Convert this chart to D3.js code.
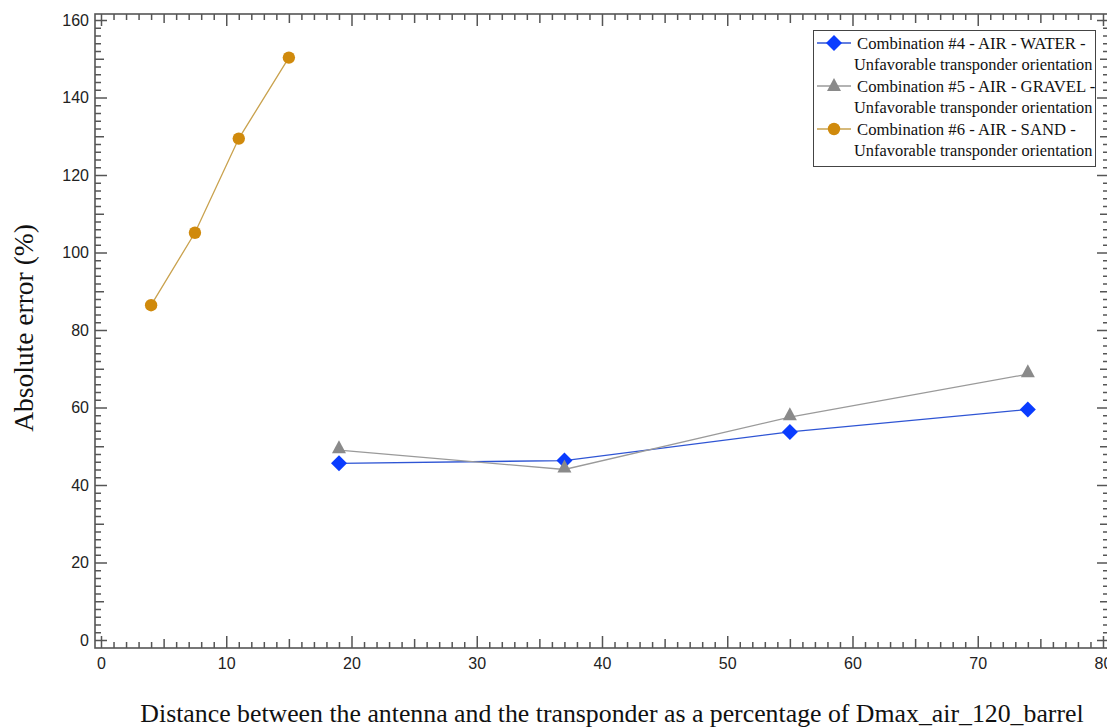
<!DOCTYPE html>
<html>
<head>
<meta charset="utf-8">
<script src="https://cdn.jsdelivr.net/npm/d3@7"></script>
<style>
  html, body { margin: 0; padding: 0; background: #fff; }
  svg { display: block; }
</style>
</head>
<body>
<svg id="chart" width="1107" height="728"></svg>
<script>
// Measurement series: absolute error (%) vs. antenna–transponder distance (% of Dmax)
const waterX  = [19, 37, 55, 74];
const waterY  = [45.6, 46.3, 53.7, 59.5];
const gravelX = [19, 37, 55, 74];
const gravelY = [49.0, 44.0, 57.5, 68.6];
const sandX   = [4, 7.5, 11, 15];
const sandY   = [86.4, 105.1, 129.4, 150.3];

const xTickLabels = [0, 10, 20, 30, 40, 50, 60, 70, 80];
const yTickLabels = [0, 20, 40, 60, 80, 100, 120, 140, 160];

const legendLines = [
  ["Combination #4 - AIR - WATER -", "Unfavorable transponder orientation"],
  ["Combination #5 - AIR - GRAVEL -", "Unfavorable transponder orientation"],
  ["Combination #6 - AIR - SAND -", "Unfavorable transponder orientation"]
];

const svg = d3.select("#chart");

// Plot frame
const frame = { left: 95, right: 1109, top: 14, bottom: 648 };
const x = d3.scaleLinear().domain([-0.479, 80.48]).range([frame.left, frame.right]);
const y = d3.scaleLinear().domain([-2.065, 161.55]).range([frame.bottom, frame.top]);

const axisColor = "#555";

// Tick sets: minor, medium, major
const xMinor = d3.range(0, 81, 1).filter(v => v % 5 !== 0);
const xMed   = d3.range(5, 81, 10);
const yMinor = d3.range(0, 161, 2).filter(v => v % 10 !== 0);
const yMed   = d3.range(10, 161, 20);

const sizes = { minor: 6, med: 9, major: 12 };

function styleAxis(g) {
  g.select(".domain").remove();
  g.selectAll(".tick line").attr("stroke", axisColor).attr("stroke-width", 1.5);
  g.selectAll(".tick text")
    .attr("fill", "#222")
    .style("font-family", "'Liberation Sans', Arial, sans-serif")
    .style("font-size", "16px");
}

function addAxis(maker, scale, transform, vals, size, labels, pad) {
  const ax = maker(scale).tickValues(vals).tickSizeInner(-size).tickSizeOuter(0)
    .tickPadding(pad || 3);
  if (!labels) ax.tickFormat("");
  else ax.tickFormat(d3.format("d"));
  const g = svg.append("g").attr("transform", transform).call(ax);
  styleAxis(g);
  return g;
}

// Bottom, top, left, right axes with inward ticks
[[d3.axisBottom, `translate(0,${frame.bottom})`, true, 10],
 [d3.axisTop, `translate(0,${frame.top})`, false]].forEach(([m, t, lab, pad]) => {
  addAxis(m, x, t, xMinor, sizes.minor, false);
  addAxis(m, x, t, xMed, sizes.med, false);
  addAxis(m, x, t, xTickLabels, sizes.major, lab, pad);
});
[[d3.axisLeft, `translate(${frame.left},0)`, true, 6],
 [d3.axisRight, `translate(${frame.right},0)`, false]].forEach(([m, t, lab, pad]) => {
  addAxis(m, y, t, yMinor, sizes.minor, false);
  addAxis(m, y, t, yMed, sizes.med, false);
  addAxis(m, y, t, yTickLabels, sizes.major, lab, pad);
});

// Frame lines
svg.append("rect")
  .attr("x", frame.left).attr("y", frame.top)
  .attr("width", frame.right - frame.left).attr("height", frame.bottom - frame.top)
  .attr("fill", "none").attr("stroke", axisColor).attr("stroke-width", 1.6);

// Series definitions
const series = [
  { xs: waterX, ys: waterY, line: "#2f55d4", fill: "#0a3cff", marker: "diamond" },
  { xs: gravelX, ys: gravelY, line: "#9a9a9a", fill: "#8a8a8a", marker: "triangle" },
  { xs: sandX, ys: sandY, line: "#c9a24e", fill: "#d08a0c", marker: "circle" }
];

function markerPath(kind) {
  if (kind === "diamond") return "M0,-8L8,0L0,8L-8,0Z";
  if (kind === "triangle") return "M0,-10L7,3L-7,3Z";
  return d3.symbol(d3.symbolCircle, Math.PI * 6.2 * 6.2)();
}

const line = d3.line().x(d => x(d[0])).y(d => y(d[1]));

series.forEach(s => {
  const pts = s.xs.map((v, i) => [v, s.ys[i]]);
  svg.append("path").datum(pts)
    .attr("d", line).attr("fill", "none")
    .attr("stroke", s.line).attr("stroke-width", 1.3);
});
series.forEach(s => {
  const pts = s.xs.map((v, i) => [v, s.ys[i]]);
  svg.append("g").selectAll("path").data(pts).join("path")
    .attr("transform", d => `translate(${x(d[0])},${y(d[1])})`)
    .attr("d", markerPath(s.marker))
    .attr("fill", s.fill);
});

// Legend
const lg = svg.append("g");
lg.append("rect")
  .attr("x", 813.5).attr("y", 30.5).attr("width", 282).attr("height", 136)
  .attr("fill", "#fff").attr("stroke", "#444").attr("stroke-width", 1);
series.forEach((s, i) => {
  const cy = 43 + i * 43;
  lg.append("line").attr("x1", 817).attr("x2", 851).attr("y1", cy).attr("y2", cy)
    .attr("stroke", s.line).attr("stroke-width", 1.3);
  lg.append("path").attr("transform", `translate(834,${cy + (s.marker === "triangle" ? 2 : 0)})`)
    .attr("d", markerPath(s.marker)).attr("fill", s.fill);
  legendLines[i].forEach((t, j) => {
    lg.append("text")
      .attr("x", j === 0 ? 857 : 854).attr("y", cy + j * 21.5)
      .attr("dy", "0.35em")
      .style("font-family", "'Liberation Serif', 'Times New Roman', serif")
      .style("font-size", j === 0 ? "16.7px" : "16.4px").attr("fill", "#111")
      .text(t);
  });
});

// Axis titles
svg.append("text")
  .attr("transform", `translate(33,328) rotate(-90)`)
  .attr("text-anchor", "middle")
  .style("font-family", "'Liberation Serif', 'Times New Roman', serif")
  .style("font-size", "27.5px").attr("fill", "#111")
  .text("Absolute error (%)");

svg.append("text")
  .attr("x", 612).attr("y", 722)
  .attr("text-anchor", "middle")
  .style("font-family", "'Liberation Serif', 'Times New Roman', serif")
  .style("font-size", "25.8px").attr("fill", "#111")
  .text("Distance between the antenna and the transponder as a percentage of Dmax_air_120_barrel");
</script>
</body>
</html>
